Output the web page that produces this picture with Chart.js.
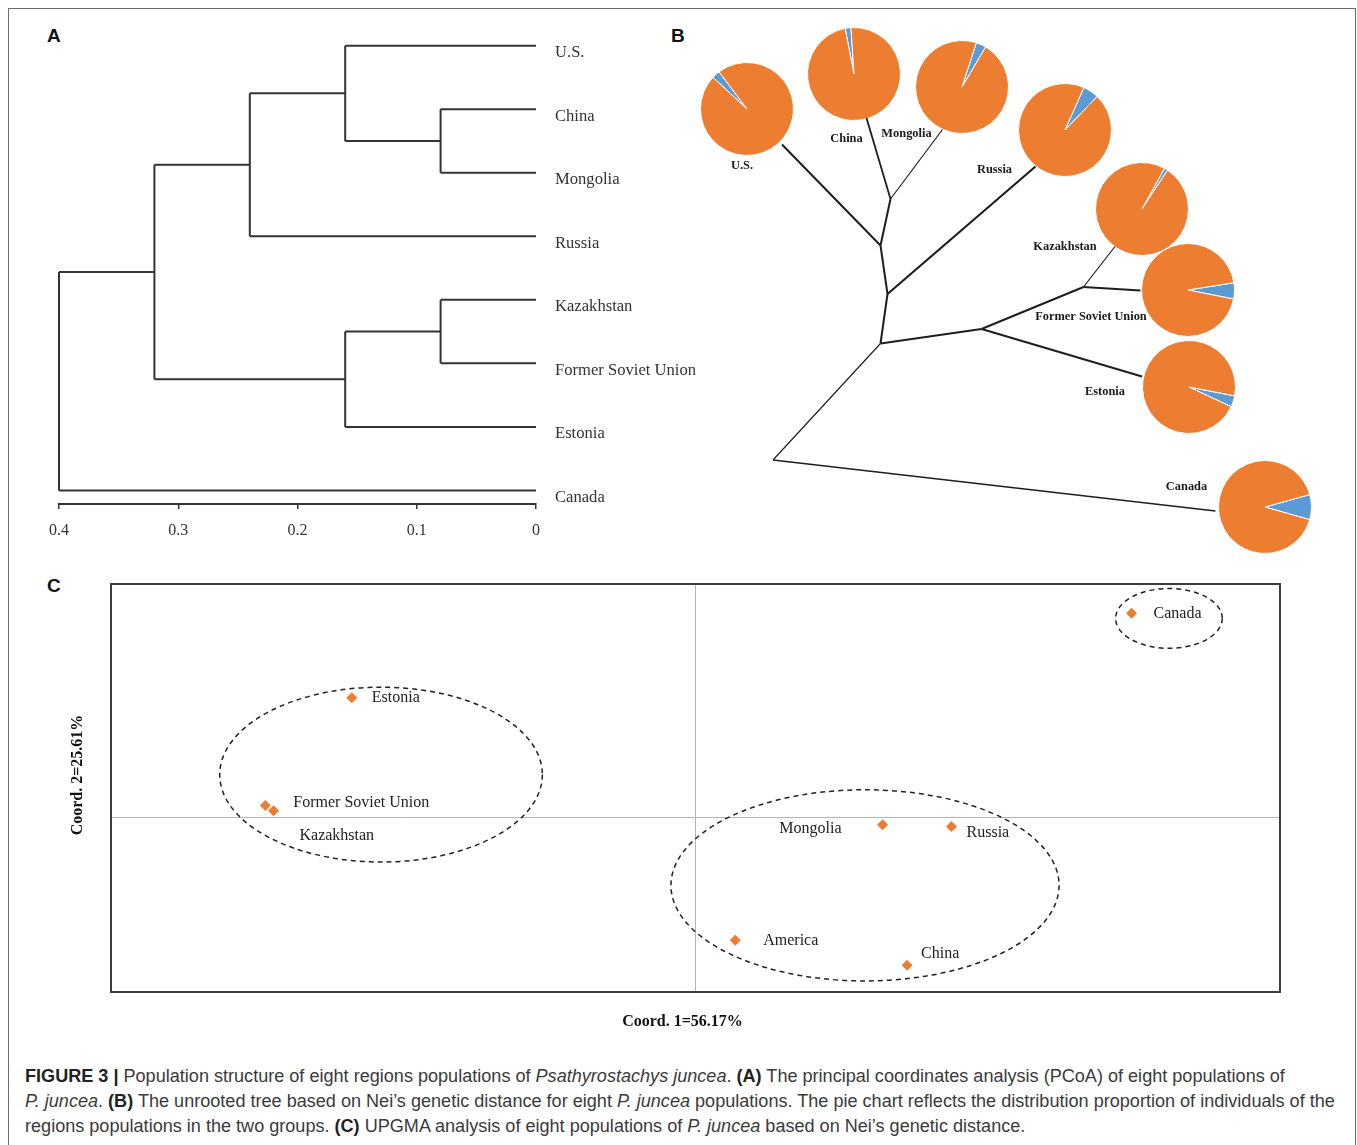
<!DOCTYPE html>
<html>
<head>
<meta charset="utf-8">
<title>Population structure of Psathyrostachys juncea</title>
<script src="https://cdn.jsdelivr.net/npm/chart.js@4.4.1/dist/chart.umd.min.js"></script>
<style>
  html, body { margin: 0; padding: 0; background: #fff; overflow: hidden; }
  #page { position: relative; width: 1357px; height: 1145px; }
  #frame { position: absolute; left: 8px; top: 8px; width: 1348px; height: 1170px;
           border: 1.5px solid #6a6a6a; box-sizing: border-box; }
  .tag { position: absolute; font: bold 19px "Liberation Sans", Arial, sans-serif; color: #111; line-height: 1; }
  canvas { position: absolute; }
  #caption { position: absolute; left: 25px; top: 1064px; font-family: "Liberation Sans", Arial, sans-serif;
             color: #3a3a3a; line-height: 25px; white-space: nowrap; font-size: 16px; }
  #caption b { color: #222; }
</style>
</head>
<body>
<div id="page">
  <div id="frame"></div>
  <div class="tag" style="left:47px;top:26px;">A</div>
  <div class="tag" style="left:671px;top:26px;">B</div>
  <div class="tag" style="left:47px;top:576px;">C</div>

  <canvas id="dendro" width="720" height="560" style="left:0;top:0;z-index:1;"></canvas>
  <canvas id="tree" width="697" height="540" style="left:660px;top:20px;z-index:3;"></canvas>
  <canvas id="pcoa" width="1357" height="490" style="left:0;top:560px;z-index:1;"></canvas>

  <div id="caption">
    <div class="ln"><b>FIGURE 3 |</b> Population structure of eight regions populations of <i>Psathyrostachys juncea</i>. <b>(A)</b> The principal coordinates analysis (PCoA) of eight populations of</div>
    <div class="ln" id="widest"><i>P. juncea</i>. <b>(B)</b> The unrooted tree based on Nei’s genetic distance for eight <i>P. juncea</i> populations. The pie chart reflects the distribution proportion of individuals of the</div>
    <div class="ln">regions populations in the two groups. <b>(C)</b> UPGMA analysis of eight populations of <i>P. juncea</i> based on Nei’s genetic distance.</div>
  </div>
</div>

<script>
// ---------- UPGMA dendrogram (Nei's genetic distance) ----------
const leafNames = ['U.S.', 'China', 'Mongolia', 'Russia', 'Kazakhstan', 'Former Soviet Union', 'Estonia', 'Canada'];
// each merge joins two clusters at a distance; "m<k>" refers to the k-th merge
const mergeLeft   = ['China', 'Kazakhstan', 'U.S.', 'm1', 'm2', 'm4', 'm5'];
const mergeRight  = ['Mongolia', 'Former Soviet Union', 'm0', 'Estonia', 'Russia', 'm3', 'Canada'];
const mergeHeight = [0.08, 0.08, 0.16, 0.16, 0.24, 0.32, 0.40];
const distanceTicks = [0.4, 0.3, 0.2, 0.1, 0];

// ---------- unrooted tree (layout units) ----------
const treeNodeIds = ['usTip', 'usFork', 'cnTip', 'cmFork', 'mnTip', 'ruFork', 'ruTip', 'core',
                     'kfeFork', 'kfFork', 'kzTip', 'fsuTip', 'esTip', 'base', 'caTip'];
const treeNodeX = [2.44, 4.41, 4.13, 4.61, 5.65, 4.55, 7.51, 4.41, 6.43, 8.47, 9.10, 9.61, 9.64, 2.26, 11.11];
const treeNodeY = [8.31, 6.29, 8.84, 7.22, 8.61, 5.32, 7.87, 4.33, 4.62, 5.46, 6.27, 5.39, 3.67, 2.00, 0.98];
const branchFrom = ['usTip', 'cnTip', 'mnTip', 'cmFork', 'usFork', 'ruTip', 'ruFork', 'core', 'kfeFork', 'kzTip', 'fsuTip', 'esTip', 'core', 'base'];
const branchTo   = ['usFork', 'cmFork', 'cmFork', 'usFork', 'ruFork', 'ruFork', 'core', 'kfeFork', 'kfFork', 'kfFork', 'kfFork', 'kfeFork', 'base', 'caTip'];

// membership of each region's individuals in the two groups (%)
const pieRegions  = ['U.S.', 'China', 'Mongolia', 'Russia', 'Kazakhstan', 'Former Soviet Union', 'Estonia', 'Canada'];
const pieCentreX  = [1.74, 3.87, 6.03, 8.09, 9.64, 10.56, 10.58, 12.09];
const pieCentreY  = [9.02, 9.73, 9.46, 8.60, 7.03, 5.41, 3.47, 1.06];
const groupIShare  = [97.2, 98.0, 96.5, 94.5, 98.8, 94.4, 96.1, 91.3];
const groupIIShare = [2.8, 2.0, 3.5, 5.5, 1.2, 5.6, 3.9, 8.7];
const pieRotation  = [313, 349, 18, 24, 29, 81, 101, 74.5];

// ---------- PCoA ----------
const pcoaNames = ['Canada', 'Estonia', 'Former Soviet Union', 'Kazakhstan', 'Mongolia', 'Russia', 'America', 'China'];
const coord1 = [0.373, -0.294, -0.368, -0.361, 0.160, 0.219, 0.034, 0.181];
const coord2 = [0.350, 0.205, 0.020, 0.011, -0.013, -0.016, -0.211, -0.254];
const clusterCx = [-0.269, 0.145, 0.405];
const clusterCy = [0.073, -0.117, 0.341];
const clusterRx = [0.138, 0.166, 0.0456];
const clusterRy = [0.150, 0.164, 0.0513];

// ---------- styles ----------
const SERIF = '"Liberation Serif", "Times New Roman", serif';
const ORANGE = '#ED7D31', BLUE = '#5B9BD5';
const branchWeight = [2, 1.8, 1.2, 2, 2, 2.2, 2, 2, 2, 1.2, 2, 2, 1.2, 1.6];
const treeLabelOffset = [[-5, 57], [-7, 65], [-55, 47], [-70, 40], [-77, 38], [-97, 27], [-84, 5], [-78, -20]];
const pcoaLabelOffset = [[22, 1], [20, 0], [28, -3], [26, 25], [-41, 4], [15, 6], [28, 1], [14, -11]];
const pcoaLabelAlign  = ['left', 'left', 'left', 'left', 'right', 'left', 'left', 'left'];

Chart.defaults.font.family = SERIF;

// ---------- A: dendrogram ----------
const nodePos = {};
leafNames.forEach((n, i) => { nodePos[n] = { x: 0, y: i }; });
const dendroSegments = [];
mergeHeight.forEach((h, k) => {
  const a = nodePos[mergeLeft[k]], b = nodePos[mergeRight[k]];
  dendroSegments.push([{ x: a.x, y: a.y }, { x: h, y: a.y }]);
  dendroSegments.push([{ x: b.x, y: b.y }, { x: h, y: b.y }]);
  dendroSegments.push([{ x: h, y: a.y }, { x: h, y: b.y }]);
  nodePos['m' + k] = { x: h, y: (a.y + b.y) / 2 };
});

new Chart(document.getElementById('dendro'), {
  type: 'scatter',
  data: {
    datasets: dendroSegments.map(s => ({
      data: s, showLine: true, borderColor: '#333', borderWidth: 2,
      pointRadius: 0, fill: false, clip: false
    }))
  },
  options: {
    responsive: false, animation: false, events: [],
    layout: { padding: { left: 59, top: 12, right: 0, bottom: 0 } },
    plugins: { legend: { display: false }, tooltip: { enabled: false } },
    scales: {
      x: {
        type: 'linear', reverse: true, min: 0, max: 0.4, position: 'bottom',
        afterBuildTicks: s => { s.ticks = distanceTicks.map(v => ({ value: v })); },
        afterFit: s => { s.height = 56; },
        border: { display: true, color: '#333', width: 2 },
        grid: { display: true, drawOnChartArea: false, drawTicks: true, tickLength: 5, color: '#333', lineWidth: 1.5 },
        ticks: { font: { size: 16 }, color: '#333', padding: 12, maxRotation: 0,
                 callback: v => String(+Number(v).toFixed(1)) }
      },
      y: {
        type: 'linear', reverse: true, min: -0.264, max: 7.214, position: 'right',
        afterBuildTicks: s => { s.ticks = leafNames.map((_, i) => ({ value: i })); },
        afterFit: s => { s.width = 184; },
        border: { display: false },
        grid: { display: false, drawTicks: false },
        ticks: { font: { size: 16.6 }, color: '#333', padding: 19, labelOffset: 7,
                 callback: v => leafNames[v] }
      }
    }
  }
});

// ---------- B: unrooted tree with group-membership pies ----------
const nodeAt = id => { const i = treeNodeIds.indexOf(id); return { x: treeNodeX[i], y: treeNodeY[i] }; };

const treeChart = new Chart(document.getElementById('tree'), {
  type: 'scatter',
  data: {
    datasets: branchFrom.map((f, i) => ({
      data: [nodeAt(f), nodeAt(branchTo[i])], showLine: true, borderColor: '#1e1e1e',
      borderWidth: branchWeight[i], pointRadius: 0, fill: false, clip: false
    }))
  },
  options: {
    responsive: false, animation: false, events: [],
    layout: { padding: 0 },
    plugins: { legend: { display: false }, tooltip: { enabled: false } },
    scales: {
      x: { display: false, min: 0, max: 13.94 },
      y: { display: false, min: 0, max: 10.8 }
    }
  },
  plugins: [{
    id: 'regionLabels',
    afterDatasetsDraw(chart) {
      const { ctx, scales: { x, y } } = chart;
      ctx.save();
      ctx.font = 'bold 12.4px ' + SERIF;
      ctx.fillStyle = '#1a1a1a';
      ctx.textAlign = 'center';
      ctx.textBaseline = 'middle';
      pieRegions.forEach((name, i) => {
        ctx.fillText(name, x.getPixelForValue(pieCentreX[i]) + treeLabelOffset[i][0],
                           y.getPixelForValue(pieCentreY[i]) + treeLabelOffset[i][1]);
      });
      ctx.restore();
    }
  }]
});

const treeCanvas = document.getElementById('tree');
const PIE_BOX = 94;
pieRegions.forEach((name, i) => {
  const cv = document.createElement('canvas');
  cv.width = PIE_BOX; cv.height = PIE_BOX;
  const px = treeCanvas.offsetLeft + treeChart.scales.x.getPixelForValue(pieCentreX[i]);
  const py = treeCanvas.offsetTop + treeChart.scales.y.getPixelForValue(pieCentreY[i]);
  cv.style.left = (px - PIE_BOX / 2) + 'px';
  cv.style.top = (py - PIE_BOX / 2) + 'px';
  cv.style.zIndex = 2;
  document.getElementById('page').appendChild(cv);
  new Chart(cv, {
    type: 'pie',
    data: {
      labels: ['Group II', 'Group I'],
      datasets: [{ data: [groupIIShare[i], groupIShare[i]], backgroundColor: [BLUE, ORANGE],
                   borderColor: '#ffffff', borderWidth: 1 }]
    },
    options: {
      responsive: false, animation: false, events: [], rotation: pieRotation[i],
      layout: { padding: 0 },
      plugins: { legend: { display: false }, tooltip: { enabled: false } }
    }
  });
});

// ---------- C: PCoA ----------
new Chart(document.getElementById('pcoa'), {
  type: 'scatter',
  data: {
    datasets: [{
      data: coord1.map((v, i) => ({ x: v, y: coord2[i] })),
      pointStyle: 'rectRot', pointRadius: 5.5, backgroundColor: ORANGE,
      borderColor: ORANGE, borderWidth: 0, clip: false
    }]
  },
  options: {
    responsive: false, animation: false, events: [],
    layout: { padding: { left: 111, right: 77, top: 24, bottom: 58 } },
    plugins: { legend: { display: false }, tooltip: { enabled: false } },
    scales: {
      x: {
        type: 'linear', min: -0.5, max: 0.5,
        afterBuildTicks: s => { s.ticks = [{ value: 0 }]; },
        afterFit: s => { s.height = 0; },
        ticks: { display: false }, border: { display: false },
        grid: { color: '#b4b4b4', lineWidth: 1, drawTicks: false }
      },
      y: {
        type: 'linear', min: -0.3, max: 0.4,
        afterBuildTicks: s => { s.ticks = [{ value: 0 }]; },
        afterFit: s => { s.width = 0; },
        ticks: { display: false }, border: { display: false },
        grid: { color: '#b4b4b4', lineWidth: 1, drawTicks: false }
      }
    }
  },
  plugins: [{
    id: 'clustersAndLabels',
    beforeDatasetsDraw(chart) {
      const { ctx, scales: { x, y } } = chart;
      ctx.save();
      ctx.strokeStyle = '#222';
      ctx.lineWidth = 1.5;
      ctx.setLineDash([5, 4]);
      clusterCx.forEach((cx, i) => {
        const px = x.getPixelForValue(cx), py = y.getPixelForValue(clusterCy[i]);
        const rx = Math.abs(x.getPixelForValue(cx + clusterRx[i]) - px);
        const ry = Math.abs(y.getPixelForValue(clusterCy[i] + clusterRy[i]) - py);
        ctx.beginPath();
        ctx.ellipse(px, py, rx, ry, 0, 0, Math.PI * 2);
        ctx.stroke();
      });
      ctx.restore();
    },
    afterDraw(chart) {
      const { ctx, chartArea: a, scales: { x, y } } = chart;
      ctx.save();
      // plot frame
      ctx.strokeStyle = '#3c3c3c';
      ctx.lineWidth = 2;
      ctx.strokeRect(a.left, a.top, a.right - a.left, a.bottom - a.top);
      // point names
      ctx.font = '16px ' + SERIF;
      ctx.fillStyle = '#222';
      ctx.textBaseline = 'middle';
      pcoaNames.forEach((n, i) => {
        ctx.textAlign = pcoaLabelAlign[i];
        ctx.fillText(n, x.getPixelForValue(coord1[i]) + pcoaLabelOffset[i][0],
                        y.getPixelForValue(coord2[i]) + pcoaLabelOffset[i][1]);
      });
      // axis titles
      ctx.font = 'bold 16px ' + SERIF;
      ctx.fillStyle = '#111';
      ctx.textAlign = 'center';
      ctx.fillText('Coord. 1=56.17%', (a.left + a.right) / 2 - 13, a.bottom + 30);
      ctx.translate(a.left - 33, (a.top + a.bottom) / 2 - 13);
      ctx.rotate(-Math.PI / 2);
      ctx.fillText('Coord. 2=25.61%', 0, 0);
      ctx.restore();
    }
  }]
});

// caption: size the type so the longest line spans the text block
(function fitCaption() {
  const cap = document.getElementById('caption');
  const w = document.getElementById('widest');
  const span = document.createElement('span');
  span.innerHTML = w.innerHTML;
  w.innerHTML = '';
  w.appendChild(span);
  const measured = span.getBoundingClientRect().width;
  cap.style.fontSize = (16 * 1310 / measured).toFixed(2) + 'px';
})();
</script>
</body>
</html>
